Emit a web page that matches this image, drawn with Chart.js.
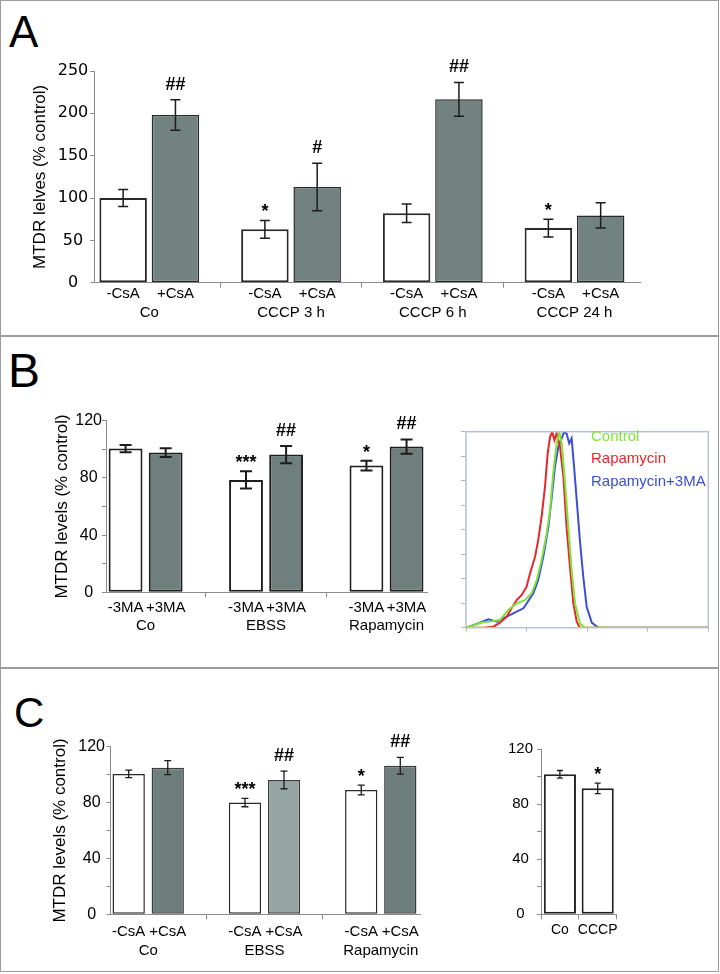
<!DOCTYPE html>
<html>
<head>
<meta charset="utf-8">
<script src="https://cdn.jsdelivr.net/npm/chart.js@4.4.1/dist/chart.umd.min.js"></script>
<style>
  body { margin: 0; background: #fff; }
  #fig { position: relative; width: 720px; height: 974px; overflow: hidden; font-family: "Liberation Sans", Arial, sans-serif; }
  .panel { position: absolute; left: 0; width: 719px; border: 1px solid #9c9c9c; box-sizing: border-box; }
  .letter { position: absolute; line-height: 1; color: #000; }
  canvas { position: absolute; }
</style>
</head>
<body>
<div id="fig">
  <div class="panel" style="top:0;height:337px"></div>
  <div class="panel" style="top:335px;height:334px"></div>
  <div class="panel" style="top:667px;height:305px"></div>

  <div class="letter" style="left:9px;top:10px;font-size:44px">A</div>
  <div class="letter" style="left:8px;top:347px;font-size:48px">B</div>
  <div class="letter" style="left:14px;top:692px;font-size:42px">C</div>

  <canvas id="chartA" width="630" height="285" style="left:30px;top:40px"></canvas>
  <canvas id="chartB" width="393" height="245" style="left:52px;top:395px"></canvas>
  <canvas id="histB" width="268" height="215" style="left:450px;top:425px"></canvas>
  <canvas id="chartC" width="392" height="240" style="left:50px;top:725px"></canvas>
  <canvas id="chartC2" width="125" height="215" style="left:505px;top:735px"></canvas>
</div>

<script>
// ---- panel A : MTDR, CsA
const groupsA = ['Co', 'CCCP 3 h', 'CCCP 6 h', 'CCCP 24 h'];
const minusCsA_A = [100, 63, 82, 64.5];
const minusCsA_A_err = [10, 10.5, 11, 10.5];
const plusCsA_A = [198, 113, 216.5, 79.5];
const plusCsA_A_err = [18, 28, 20, 15];
const marksMinusA = ['', '*', '', '*'];
const marksPlusA = ['##', '#', '##', ''];

// ---- panel B : MTDR, 3MA
const groupsB = ['Co', 'EBSS', 'Rapamycin'];
const minus3MA = [100.5, 78.6, 88.6];
const minus3MA_err = [2.5, 6, 3.4];
const plus3MA = [97.7, 96.3, 101.9];
const plus3MA_err = [3, 6, 5];
const marksMinusB = ['', '***', '*'];
const marksPlusB = ['', '##', '##'];

// ---- panel B : flow histogram ([intensity, % of max])
const histLabels = ['Control', 'Rapamycin', 'Rapamycin+3MA'];
const controlTrace = [[0,0],[6.5,2.6],[9.9,3.1],[14,3.9],[17.5,9],[20.9,12.4],[24.3,14.1],[27.1,17.5],[29.2,24.3],[31.2,34.5],[33.3,48.1],[34.7,60],[36,78.7],[37.4,94],[38.5,100],[39.5,94],[40.9,73.6],[42.2,51.5],[43.6,29.4],[45,12.4],[47,2.2],[49.1,0],[100,0]];
const rapaTrace = [[0,0],[7.2,0],[11.3,0.5],[14,2.6],[16.8,5.6],[18.8,9.9],[20.9,14.1],[23,16.7],[25,20.9],[26.4,27.7],[28.5,36.2],[29.8,44.7],[31.2,56.6],[32.6,71.9],[33.7,88.9],[34.7,97.4],[35.6,100],[36.5,95.7],[37.4,99.1],[38.8,92.3],[40.2,77],[41.5,51.5],[42.9,31.1],[44.3,12.4],[45.7,3.1],[47,0],[100,0]];
const rapa3maTrace = [[0,0],[4.4,1.9],[9.2,4.3],[12.7,3.1],[15.4,4.8],[19.5,7.3],[23.7,9.9],[27.8,17.5],[29.8,24.3],[31.9,36.2],[34,51.5],[35.4,66.8],[36.7,82.1],[38.1,92.3],[39.5,96.6],[40.4,99.7],[41.5,99.1],[42.6,94],[43.6,96.6],[44.6,82.1],[45.7,65.1],[47,44.7],[48.4,26],[49.8,10.7],[51.9,2.6],[54.6,0],[100,0]];

// ---- panel C : MTDR, CsA
const groupsC = ['Co', 'EBSS', 'Rapamycin'];
const minusCsA_C = [100.5, 80, 89];
const minusCsA_C_err = [2.7, 3, 3.5];
const plusCsA_C = [105, 96.2, 106.4];
const plusCsA_C_err = [5, 6.3, 6];
const marksMinusC = ['', '***', '*'];
const marksPlusC = ['', '##', '##'];

// ---- panel C : CCCP
const cccpLabels = ['Co', 'CCCP'];
const cccpValues = [101.8, 91.6];
const cccpErr = [2.8, 3.8];
const cccpMarks = ['', '*'];

Chart.defaults.font.family = '"Liberation Sans", Arial, sans-serif';
Chart.defaults.color = '#000';

const NARROW = '"Liberation Sans Narrow", "Liberation Sans", Arial, sans-serif';

// error bars, significance marks and -/+ labels under each bar
const barExtras = {
  id: 'barExtras',
  afterDatasetsDraw(chart, args, o) {
    const ctx = chart.ctx;
    const ys = chart.scales.y;
    chart.data.datasets.forEach((ds, i) => {
      const meta = chart.getDatasetMeta(i);
      meta.data.forEach((bar, j) => {
        const v = ds.data[j], e = ds.errors[j];
        const top = ys.getPixelForValue(v + e);
        const bot = ys.getPixelForValue(v - e);
        ctx.save();
        ctx.strokeStyle = '#1c1c1c';
        ctx.lineWidth = o.lineWidth;
        ctx.beginPath();
        ctx.moveTo(bar.x, top); ctx.lineTo(bar.x, bot);
        ctx.moveTo(bar.x - o.cap, top); ctx.lineTo(bar.x + o.cap, top);
        ctx.moveTo(bar.x - o.cap, bot); ctx.lineTo(bar.x + o.cap, bot);
        ctx.stroke();
        const m = ds.marks ? ds.marks[j] : '';
        if (m) {
          ctx.font = 'bold 18px "Liberation Sans", Arial';
          ctx.fillStyle = '#000';
          ctx.textAlign = 'center';
          ctx.textBaseline = 'alphabetic';
          ctx.fillText(m, bar.x, top - (m.includes('#') ? 10 : 3));
        }
        if (o.sub) {
          ctx.font = o.subFont;
          ctx.fillStyle = '#000';
          ctx.textAlign = 'center';
          ctx.textBaseline = 'middle';
          ctx.fillText(ds.label, bar.x, chart.chartArea.bottom + o.sub);
        }
        ctx.restore();
      });
    });
  }
};

function barChart(id, c) {
  return new Chart(document.getElementById(id), {
    type: 'bar',
    data: { labels: c.labels, datasets: c.datasets },
    options: {
      responsive: false,
      animation: false,
      layout: { padding: { top: c.padTop, right: c.padRight, left: 0, bottom: 0 } },
      datasets: { bar: { categoryPercentage: c.catPct, barPercentage: c.barPct, borderSkipped: false } },
      plugins: {
        legend: { display: false },
        tooltip: { enabled: false },
        barExtras: c.extras
      },
      scales: {
        x: {
          grid: { drawOnChartArea: false, tickLength: 5, color: '#8a8a8a', offset: true },
          border: { color: '#8a8a8a', width: 1 },
          ticks: { font: c.xFont, padding: c.xPad, maxRotation: 0, autoSkip: false, color: '#000' },
          afterBuildTicks: s => {
            if (c.start !== undefined) { s._startValue = c.start; s._valueRange = c.range; }
          },
          afterFit: s => { s.height = c.xHeight; }
        },
        y: {
          min: 0, max: c.max,
          ticks: {
            stepSize: c.step,
            callback: v => (v % c.labelEvery === 0 ? v : ''),
            font: c.yFont, color: '#000', padding: c.yPad, crossAlign: 'center'
          },
          grid: { drawOnChartArea: false, tickLength: 4, color: '#8a8a8a' },
          border: { color: '#8a8a8a', width: 1 },
          title: c.title ? { display: true, text: c.title, font: { size: 17, lineHeight: 1.2 }, color: '#000', padding: 0 } : { display: false },
          afterFit: s => { s.width = c.yWidth; }
        }
      }
    },
    plugins: [barExtras]
  });
}

// A
barChart('chartA', {
  labels: groupsA,
  datasets: [
    { label: '-CsA', data: minusCsA_A, errors: minusCsA_A_err, marks: marksMinusA,
      backgroundColor: '#fff', borderColor: '#2a2a2a', borderWidth: 2 },
    { label: '+CsA', data: plusCsA_A, errors: plusCsA_A_err, marks: marksPlusA,
      backgroundColor: '#718280', borderColor: '#2a2a2a', borderWidth: 1.5 }
  ],
  catPct: 0.738, barPct: 0.908, start: -0.388, range: 3.85,
  padTop: 31, padRight: 20, yWidth: 64.3, xHeight: 42.3,
  max: 250, step: 50, labelEvery: 50,
  yFont: { family: '"DejaVu Sans", sans-serif', size: 16 }, yPad: 2,
  xFont: { size: 15, lineHeight: 1.2 }, xPad: 16.3,
  title: 'MTDR lelves (% control)',
  extras: { cap: 5, lineWidth: 1.5, sub: 11.3, subFont: '15px "Liberation Sans", Arial' }
});

// B bars
barChart('chartB', {
  labels: groupsB,
  datasets: [
    { label: '-3MA', data: minus3MA, errors: minus3MA_err, marks: marksMinusB,
      backgroundColor: '#fff', borderColor: '#1e1e1e', borderWidth: 2 },
    { label: '+3MA', data: plus3MA, errors: plus3MA_err, marks: marksPlusB,
      backgroundColor: '#6f7f7d', borderColor: '#1e1e1e', borderWidth: 2 }
  ],
  catPct: 0.666, barPct: 0.844, start: -0.329, range: 2.673,
  padTop: 25.7, padRight: 10, yWidth: 54, xHeight: 47.7,
  max: 120, step: 20, labelEvery: 40,
  yFont: { size: 16 }, yPad: 0,
  xFont: { size: 15, lineHeight: 1.2 }, xPad: 19.7,
  title: 'MTDR levels (% control)',
  extras: { cap: 6, lineWidth: 2, sub: 15.4, subFont: '15px "Liberation Sans", Arial' }
});

// B histogram
const histFrame = {
  id: 'histFrame',
  afterDraw(chart, args, o) {
    const { ctx, chartArea: a } = chart;
    ctx.save();
    ctx.strokeStyle = '#b9c1d0';
    ctx.lineWidth = 1.5;
    ctx.strokeRect(a.left, a.top, a.right - a.left, a.bottom - a.top);
    ctx.font = '15px "Liberation Sans", Arial';
    ctx.textAlign = 'left';
    ctx.textBaseline = 'middle';
    chart.data.datasets.forEach((ds, i) => {
      ctx.fillStyle = ds.borderColor;
      ctx.fillText(ds.label, a.left + o.x, a.top + o.y + i * o.dy);
    });
    ctx.restore();
  }
};

const toPts = arr => arr.map(p => ({ x: p[0], y: p[1] }));
new Chart(document.getElementById('histB'), {
  type: 'scatter',
  data: {
    datasets: [
      { label: histLabels[0], data: toPts(controlTrace), borderColor: '#7fe33a' },
      { label: histLabels[1], data: toPts(rapaTrace), borderColor: '#e8262a' },
      { label: histLabels[2], data: toPts(rapa3maTrace), borderColor: '#3a4fd6' }
    ]
  },
  options: {
    responsive: false,
    animation: false,
    layout: { padding: { top: 6.7, right: 9.7, left: 0, bottom: 0 } },
    datasets: { scatter: { showLine: true, pointRadius: 0, borderWidth: 2, tension: 0 } },
    plugins: { legend: { display: false }, tooltip: { enabled: false }, histFrame: { x: 125, y: 5, dy: 22.4 } },
    scales: {
      x: {
        min: 0, max: 100,
        ticks: { stepSize: 25, display: false },
        grid: { drawOnChartArea: false, tickLength: 4, color: '#b0b6c4' },
        border: { display: false },
        afterFit: s => { s.height = 12.3; }
      },
      y: {
        min: 0, max: 100,
        ticks: { stepSize: 12.5, display: false },
        grid: { drawOnChartArea: false, tickLength: 5, color: '#b0b6c4' },
        border: { display: false },
        afterFit: s => { s.width = 16; }
      }
    }
  },
  plugins: [histFrame]
});

// C bars
barChart('chartC', {
  labels: groupsC,
  datasets: [
    { label: '-CsA', data: minusCsA_C, errors: minusCsA_C_err, marks: marksMinusC,
      backgroundColor: '#fff', borderColor: '#2a2a2a', borderWidth: 1.5 },
    { label: '+CsA', data: plusCsA_C, errors: plusCsA_C_err, marks: marksPlusC,
      backgroundColor: ['#6d7e7c', '#95a5a3', '#6d7e7c'], borderColor: '#3a3a3a', borderWidth: 1.5 }
  ],
  catPct: 0.672, barPct: 0.827, start: -0.3245, range: 2.665,
  padTop: 21.7, padRight: 10.4, yWidth: 60.5, xHeight: 50.7,
  max: 120, step: 20, labelEvery: 40,
  yFont: { family: NARROW, size: 16 }, yPad: 1.5,
  xFont: { size: 15, lineHeight: 1.2 }, xPad: 22.4,
  title: 'MTDR levels (% control)',
  extras: { cap: 3.5, lineWidth: 1.3, sub: 17.4, subFont: '15px "Liberation Sans", Arial' }
});

// C CCCP
barChart('chartC2', {
  labels: cccpLabels,
  datasets: [
    { label: '', data: cccpValues, errors: cccpErr, marks: cccpMarks,
      backgroundColor: '#fff', borderColor: '#222', borderWidth: 2 }
  ],
  catPct: 1, barPct: 0.85,
  padTop: 14.3, padRight: 13.4, yWidth: 36, xHeight: 35.7,
  max: 120, step: 20, labelEvery: 40,
  yFont: { family: NARROW, size: 15 }, yPad: 4,
  xFont: { family: NARROW, size: 14, lineHeight: 1.2 }, xPad: 2.2,
  extras: { cap: 3, lineWidth: 1.3, sub: 0 }
});
</script>
</body>
</html>
